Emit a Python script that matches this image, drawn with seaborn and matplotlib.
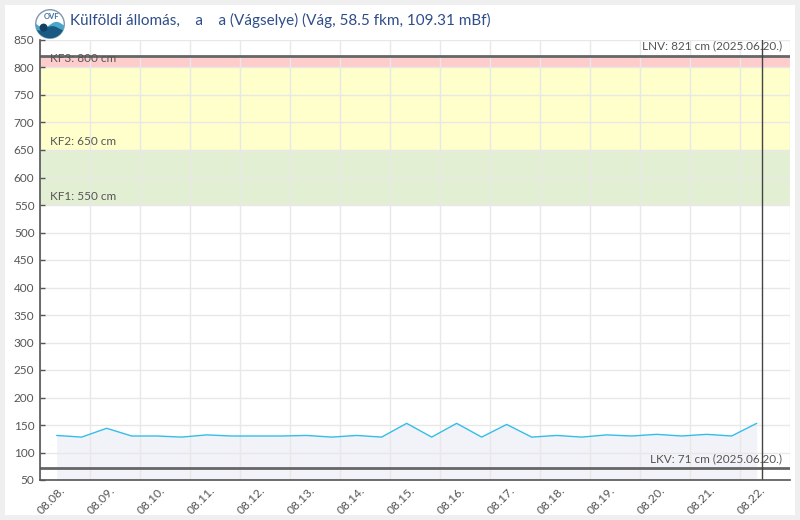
import matplotlib
matplotlib.use('Agg')
import matplotlib.pyplot as plt
import matplotlib.dates as mdates
from matplotlib.patches import Circle, Rectangle, Polygon
from matplotlib.ticker import NullFormatter
import numpy as np
import pandas as pd
import seaborn as sns

# Vízállás adatok (12 óránként)
times = ['2025-08-08 08:00', '2025-08-08 20:00', '2025-08-09 08:00', '2025-08-09 20:00',
         '2025-08-10 08:00', '2025-08-10 20:00', '2025-08-11 08:00', '2025-08-11 20:00',
         '2025-08-12 08:00', '2025-08-12 20:00', '2025-08-13 08:00', '2025-08-13 20:00',
         '2025-08-14 08:00', '2025-08-14 20:00', '2025-08-15 08:00', '2025-08-15 20:00',
         '2025-08-16 08:00', '2025-08-16 20:00', '2025-08-17 08:00', '2025-08-17 20:00',
         '2025-08-18 08:00', '2025-08-18 20:00', '2025-08-19 08:00', '2025-08-19 20:00',
         '2025-08-20 08:00', '2025-08-20 20:00', '2025-08-21 08:00', '2025-08-21 20:00',
         '2025-08-22 08:00']
levels = [131, 128, 144, 130, 130, 128, 132, 130, 130, 130, 131, 128, 131, 128, 153,
          128, 153, 128, 151, 128, 131, 128, 132, 130, 133, 130, 133, 130, 153]

# Küszöbök
kf_names = ['KF1', 'KF2', 'KF3']
kf_levels = [550, 650, 800]
kf_colors = ['#e3efd3', '#ffffcc', '#ffcccc']
lnv_level = 821
lkv_level = 71
record_date = '2025.06.20.'
now_time = '2025-08-22 10:30'
title = 'Külföldi állomás,    a    a (Vágselye) (Vág, 58.5 fkm, 109.31 mBf)'

sns.set_theme(style='white')
plt.rcParams['font.family'] = ['Lato', 'DejaVu Sans']

W, H = 800, 520
fig = plt.figure(figsize=(W / 100, H / 100), dpi=100)
fig.patch.set_facecolor('#efefef')
fig.patches.append(Rectangle((5 / W, 5 / H), 790 / W, 510 / H, transform=fig.transFigure,
                             facecolor='white', edgecolor='none', zorder=-10))

ax = fig.add_axes([40 / W, 40 / H, 750 / W, 440 / H])
ax.set_facecolor('none')

df = pd.DataFrame({'time': pd.to_datetime(times), 'level': levels})

# Sávok
tops = kf_levels[1:] + [lnv_level]
for lo, hi, c in zip(kf_levels, tops, kf_colors):
    ax.axhspan(lo, hi, color=c, lw=0, zorder=0.1)

ax.fill_between(df['time'], df['level'], 50, color='#f2f3f8', lw=0, zorder=1)
sns.lineplot(data=df, x='time', y='level', ax=ax, color='#33bdea', lw=1, zorder=3)

ax.axhline(lnv_level, color='#666666', lw=2, zorder=4)
ax.axhline(lkv_level, color='#666666', lw=2, zorder=4)
ax.axvline(pd.Timestamp(now_time), color='#444444', lw=1, zorder=4)

ax.set_xlim(pd.Timestamp('2025-08-08'), pd.Timestamp('2025-08-23'))
ax.set_ylim(50, 850)
ax.set_yticks(range(50, 851, 50))
ax.set_xlabel('')
ax.set_ylabel('')

ax.xaxis.set_major_locator(mdates.DayLocator())
ax.xaxis.set_major_formatter(NullFormatter())
ax.xaxis.set_minor_locator(mdates.HourLocator(byhour=[11]))
ax.xaxis.set_minor_formatter(mdates.DateFormatter('%m.%d.'))

ax.tick_params(axis='x', which='major', direction='in', length=3.6, width=1, color='#555555')
ax.tick_params(axis='x', which='minor', length=0, pad=6, labelsize=8.7, labelcolor='#555555')
ax.tick_params(axis='y', direction='in', length=3.6, width=1, color='#555555',
               labelsize=8.5, labelcolor='#555555', pad=4, left=True)
for lbl in ax.get_xticklabels(minor=True):
    lbl.set_rotation(45)
    lbl.set_ha('right')
    lbl.set_va('center')
    lbl.set_rotation_mode('anchor')

ax.grid(True, which='major', color='#e8e8e8', lw=1, zorder=0.5)
ax.set_axisbelow(False)
for s in ['top', 'right']:
    ax.spines[s].set_visible(False)
for s in ['left', 'bottom']:
    ax.spines[s].set_color('#555555')
    ax.spines[s].set_linewidth(1.2)
    ax.spines[s].set_zorder(5)

txt = dict(textcoords='offset points', color='#555555', fontsize=8.5, zorder=6)
for name, lv in zip(kf_names, kf_levels):
    ax.annotate(f'{name}: {lv} cm', xy=(0, lv), xycoords=('axes fraction', 'data'),
                xytext=(7, 2.5), ha='left', va='bottom', **txt)
ax.annotate(f'LNV: {lnv_level} cm ({record_date})', xy=(1, lnv_level),
            xycoords=('axes fraction', 'data'), xytext=(-6, 3), ha='right', va='bottom', **txt)
ax.annotate(f'LKV: {lkv_level} cm ({record_date})', xy=(1, lkv_level),
            xycoords=('axes fraction', 'data'), xytext=(-6, 3), ha='right', va='bottom', **txt)

# Cím és logó
fig.text(70 / W, 1 - 20 / H, title, color='#2f4d8a', fontsize=11, va='center', ha='left')
lax = fig.add_axes([35 / W, (H - 39) / H, 30 / W, 30 / H])
lax.set_xlim(-1.05, 1.05)
lax.set_ylim(-1.05, 1.05)
lax.set_aspect('equal')
lax.axis('off')
circ = Circle((0, 0), 1, facecolor='white', edgecolor='#7f98ae', lw=1)
lax.add_patch(circ)
xs = np.linspace(-1, 1, 40)
wave1 = np.column_stack([xs, -0.05 + 0.2 * np.sin(xs * 3.5)])
wave2 = np.column_stack([xs, -0.3 + 0.15 * np.sin(xs * 3.5 + 1)])
poly1 = Polygon(np.vstack([wave1, [[1, -1], [-1, -1]]]), facecolor='#4aa7c9', edgecolor='none')
poly2 = Polygon(np.vstack([wave2, [[1, -1], [-1, -1]]]), facecolor='#1a5a82', edgecolor='none')
for p in (poly1, poly2):
    lax.add_patch(p)
    p.set_clip_path(circ)
lax.add_patch(Circle((-0.45, -0.25), 0.28, facecolor='#123f63', edgecolor='none'))
lax.text(0.1, 0.5, 'OVF', ha='center', va='center', fontsize=5.5, color='#3f6f9e', fontweight='bold')

fig.savefig('out.png', dpi=100, facecolor=fig.get_facecolor())
